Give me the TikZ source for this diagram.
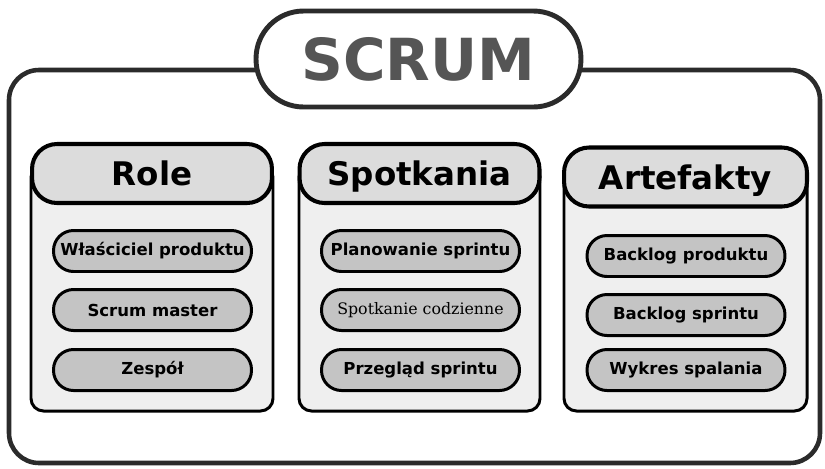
\documentclass[tikz,border=0pt]{standalone}
\usepackage{fontspec}
\setmainfont{DejaVu Sans}
\newfontfamily\serifdv{DejaVu Serif}
\usepackage{tikz}
\usetikzlibrary{positioning}
\definecolor{frameline}{HTML}{2B2B2B}
\definecolor{titlegray}{HTML}{555555}
\definecolor{headfill}{HTML}{DCDCDC}
\definecolor{bodyfill}{HTML}{EFEFEF}
\definecolor{itemfill}{HTML}{C4C4C4}

\begin{document}
\begin{tikzpicture}[x=0.02cm,y=-0.02cm,
    panelbody/.style={draw=black,line width=1.7pt,fill=bodyfill,rounded corners=0.25cm},
    panelhead/.style={draw=black,line width=2.3pt,fill=headfill,rounded corners=0.5cm,
      minimum width=4.8cm,minimum height=1.18cm,inner sep=0pt,text depth=0pt,
      font=\fontsize{18.5}{22}\bfseries\selectfont},
    itembox/.style={draw=black,line width=1.7pt,fill=itemfill,rounded corners=0.4cm,
      minimum width=3.96cm,minimum height=0.82cm,inner sep=0pt,font=\fontsize{9.4}{11}\bfseries\selectfont}]
   \useasboundingbox (0,0) rectangle (825,468);
   % outer frame
   \draw[frameline,line width=2.6pt,rounded corners=0.6cm] (9,70) rectangle (820,463);
   \node[draw=frameline,fill=white,line width=2.8pt,rounded corners=0.95cm,minimum width=6.5cm,
     minimum height=1.92cm,inner sep=0pt,text depth=0pt,text=titlegray,
     font=\fontsize{33}{40}\bfseries\selectfont] (scrum) at (418.5,59) {SCRUM};

   % Role
   \draw[panelbody] (31,165) rectangle (273,411);
   \node[panelhead] (role) at (152,173.5) {Role};
   \node[itembox] (wlasc) at (152.5,251) {Właściciel produktu};
   \node[itembox] (master) at (152.5,310) {Scrum master};
   \node[itembox] (zespol) at (152.5,370) {Zespół};

   % Spotkania
   \draw[panelbody] (299,165) rectangle (540,411);
   \node[panelhead] (spotk) at (419.5,173.5) {Spotkania};
   \node[itembox] (plan) at (420.5,251) {Planowanie sprintu};
   \node[itembox,font=\fontsize{9}{11}\serifdv\selectfont] (codz) at (420.5,310) {Spotkanie codzienne};
   \node[itembox] (przeglad) at (420.5,370) {Przegląd sprintu};

   % Artefakty
   \draw[panelbody] (564,170) rectangle (807,411);
   \node[panelhead,minimum width=4.86cm] (artef) at (685.5,177) {Artefakty};
   \node[itembox] (backprod) at (686,256) {Backlog produktu};
   \node[itembox] (backspr) at (686,315) {Backlog sprintu};
   \node[itembox] (wykres) at (686,370) {Wykres spalania};
\end{tikzpicture}
\end{document}
